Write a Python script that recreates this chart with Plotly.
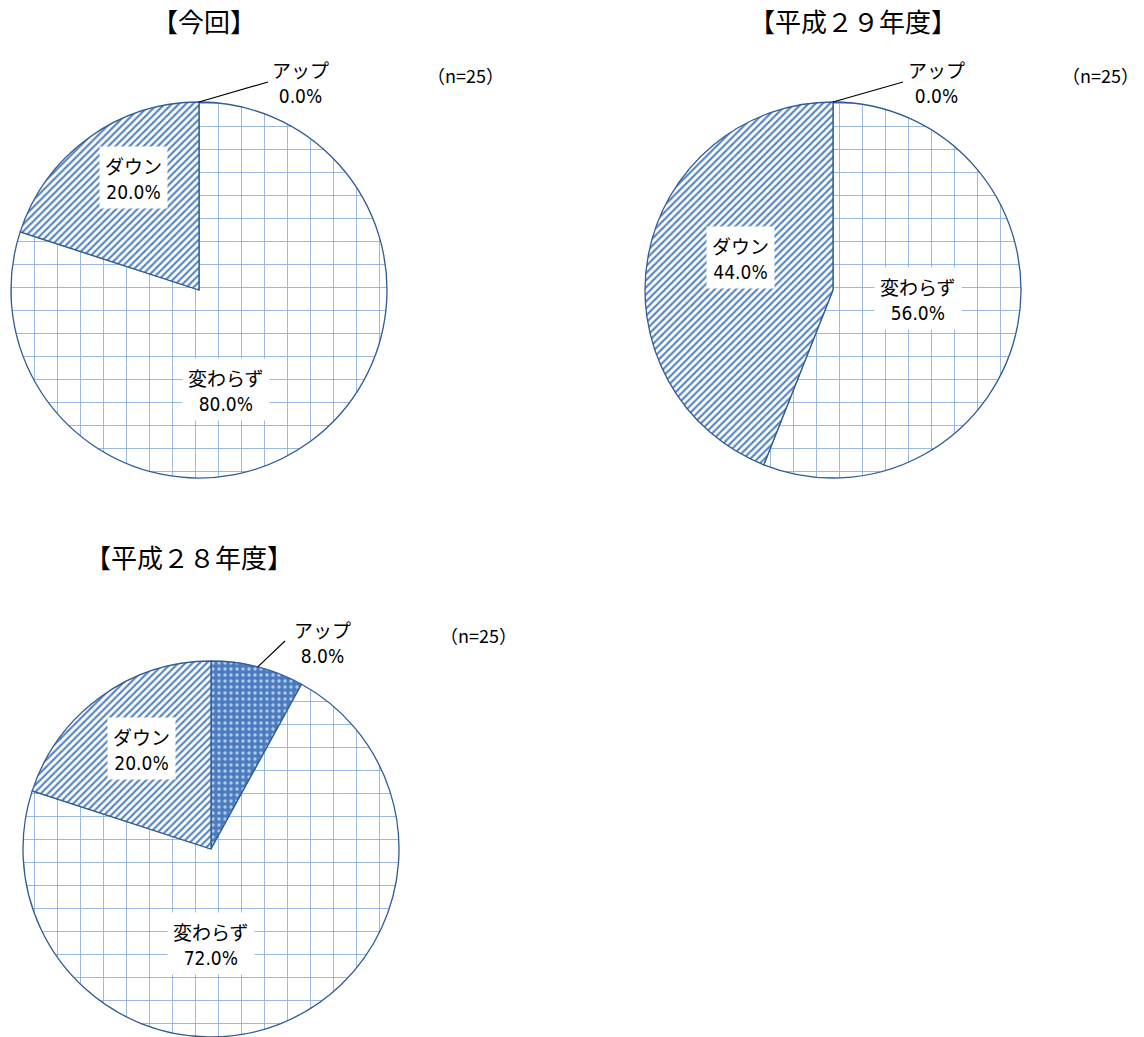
import math
import plotly.graph_objects as go

W, H = 1144, 1037

categories = ['アップ', '変わらず', 'ダウン']
titles = ['【今回】', '【平成２９年度】', '【平成２８年度】']
values_now = [0.0, 80.0, 20.0]
values_h29 = [0.0, 56.0, 44.0]
values_h28 = [8.0, 72.0, 20.0]
n_counts = [25, 25, 25]

JP = 'Noto Sans CJK JP'
NUM = "'Liberation Sans Narrow', 'DejaVu Sans Condensed', 'Liberation Sans', sans-serif"
BORDER = '#2f5b96'

# pie centres and radius in pixels, plus where the labels go
charts = [
    dict(vals=values_now, cx=199, cy=290, title_xy=(204, 21), n_xy=(465, 75),
         up_end=(268, 82), up_txt=(300, 81),
         lbl={'変わらず': (226, 390), 'ダウン': (133, 177)}),
    dict(vals=values_h29, cx=833, cy=290, title_xy=(853, 21), n_xy=(1100, 75),
         up_end=(903, 82), up_txt=(936, 81),
         lbl={'変わらず': (918, 298), 'ダウン': (740, 258)}),
    dict(vals=values_h28, cx=211, cy=849, title_xy=(189, 556), n_xy=(478, 635),
         up_end=(285, 641), up_txt=(322, 641),
         lbl={'変わらず': (211, 943), 'ダウン': (141, 748)}),
]
R = 188


def px(x):
    return min(max(x / W, 0), 1)


def py(y):
    return min(max(1 - y / H, 0), 1)


pattern = dict(
    shape=['.', '+', '/'],
    bgcolor=['#4a7cbf', 'white', 'white'],
    fgcolor=['#b3c9ea', '#86a9dc', '#5685c4'],
    size=[6, 23, 5],
    solidity=[0.25, 0.07, 0.42],
)

fig = go.Figure()
annotations = []
shapes = []

for i, c in enumerate(charts):
    fig.add_trace(go.Pie(
        labels=categories,
        values=c['vals'],
        sort=False,
        direction='clockwise',
        rotation=0,
        textinfo='none',
        showlegend=False,
        marker=dict(colors=['#4a7cbf', 'white', 'white'],
                    line=dict(color=BORDER, width=1.3),
                    pattern=pattern),
        domain=dict(x=[px(c['cx'] - R), px(c['cx'] + R)],
                    y=[py(c['cy'] + R), py(c['cy'] - R)]),
    ))

    total = sum(c['vals'])
    # leader line for the アップ slice, from mid-angle on the rim
    mid = c['vals'][0] / total * math.pi
    sx = c['cx'] + R * math.sin(mid)
    sy = c['cy'] - R * math.cos(mid)
    ex, ey = c['up_end']
    shapes.append(dict(type='line', xref='paper', yref='paper',
                       x0=px(sx), y0=py(sy), x1=px(ex), y1=py(ey),
                       line=dict(color='black', width=1.2)))
    annotations.append(dict(
        x=px(c['up_txt'][0]), y=py(c['up_txt'][1]), xref='paper', yref='paper',
        text=f"アップ<br><span style=\"font-family:{NUM}\">{c['vals'][0] / total * 100:.1f}%</span>",
        showarrow=False, font=dict(family=JP, size=19, color='black'),
        xanchor='center', yanchor='middle'))

    for cat, v in zip(categories[1:], c['vals'][1:]):
        lx, ly = c['lbl'][cat]
        annotations.append(dict(
            x=px(lx), y=py(ly), xref='paper', yref='paper',
            text=f"{cat}<br><span style=\"font-family:{NUM}\">{v / total * 100:.1f}%</span>",
            showarrow=False, font=dict(family=JP, size=19, color='black'),
            bgcolor='white', borderpad=5,
            xanchor='center', yanchor='middle'))

    annotations.append(dict(
        x=px(c['title_xy'][0]), y=py(c['title_xy'][1]), xref='paper', yref='paper',
        text=titles[i], showarrow=False,
        font=dict(family=JP, size=26, color='black'),
        xanchor='center', yanchor='middle'))
    annotations.append(dict(
        x=px(c['n_xy'][0]), y=py(c['n_xy'][1]), xref='paper', yref='paper',
        text=f"（n={n_counts[i]}）", showarrow=False,
        font=dict(family=JP, size=18, color='black'),
        xanchor='center', yanchor='middle'))

fig.update_layout(
    width=W, height=H,
    margin=dict(l=0, r=0, t=0, b=0),
    paper_bgcolor='white',
    plot_bgcolor='white',
    annotations=annotations,
    shapes=shapes,
)

fig.write_html("out.html", config={'displayModeBar': False},
               post_script="document.body.style.margin='0';")
